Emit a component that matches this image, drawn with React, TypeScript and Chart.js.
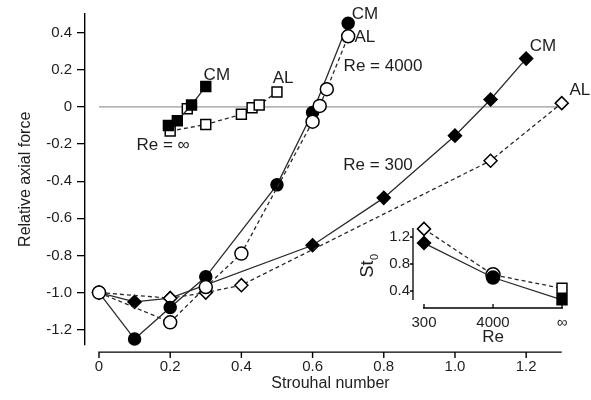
import React, { useEffect, useRef } from 'react';
import { Chart, registerables } from 'chart.js';

Chart.register(...registerables);

// ---------- main chart data ----------
const xTicks = [0, 0.2, 0.4, 0.6, 0.8, 1.0, 1.2];
const yTicks = [0.4, 0.2, 0, -0.2, -0.4, -0.6, -0.8, -1.0, -1.2];

// Re = 300
const st300CM = [0, 0.1, 0.2, 0.6, 0.8, 1.0, 1.1, 1.2];
const f300CM = [-1.0, -1.05, -1.03, -0.745, -0.49, -0.155, 0.04, 0.26];
const st300AL = [0, 0.2, 0.3, 0.4, 1.1, 1.3];
const f300AL = [-1.0, -1.03, -1.0, -0.96, -0.29, 0.02];

// Re = 4000
const st4000CM = [0, 0.1, 0.2, 0.3, 0.5, 0.6, 0.7];
const f4000CM = [-1.0, -1.25, -1.08, -0.915, -0.42, -0.03, 0.45];
const st4000AL = [0, 0.2, 0.3, 0.4, 0.6, 0.62, 0.64, 0.7];
const f4000AL = [-1.0, -1.16, -0.97, -0.79, -0.08, 0.005, 0.095, 0.38];

// Re = infinity
const stInfCM = [0.195, 0.22, 0.26, 0.3];
const fInfCM = [-0.1, -0.075, 0.01, 0.11];
const stInfAL = [0.2, 0.3, 0.4, 0.43, 0.45, 0.5];
const fInfAL = [-0.13, -0.095, -0.04, -0.005, 0.01, 0.08];
const stInfExtra = [0.248];
const fInfExtra = [-0.01];

// zero reference line
const zeroLineSt = [0, 1.3];
const zeroLineF = [0, 0];

// ---------- inset data ----------
const reCats = ['300', '4000', '\u221E'];
const st0CM = [1.11, 0.6, 0.27];
const st0AL = [1.32, 0.64, 0.44];
const insetYTicks = [1.2, 0.8, 0.4];

// ---------- text annotations (data coordinates) ----------
const annotations = [
  { text: 'CM', x: 0.331, y: 0.17 },
  { text: 'AL', x: 0.517, y: 0.154 },
  { text: 'Re = \u221E', x: 0.18, y: -0.207 },
  { text: 'CM', x: 0.747, y: 0.5 },
  { text: 'AL', x: 0.747, y: 0.372 },
  { text: 'Re = 4000', x: 0.798, y: 0.218 },
  { text: 'Re = 300', x: 0.784, y: -0.314 },
  { text: 'CM', x: 1.247, y: 0.324 },
  { text: 'AL', x: 1.351, y: 0.09 },
];

const FONT = '"Liberation Sans", Arial, Helvetica, sans-serif';
const INK = '#1e1e1e';
const LINE = '#2a2a2a';

function pts(xs: number[], ys: number[]) {
  return xs.map((x, i) => ({ x, y: ys[i] }));
}

function fmt(v: number) {
  return Math.abs(v) < 1e-9 ? '0' : v.toFixed(1);
}

const mainPlugin = {
  id: 'mainDecor',
  beforeDatasetsDraw(chart: any) {
    const { ctx, chartArea, scales } = chart;
    const xs = scales.x;
    const axisY = chartArea.bottom + 7.5;
    ctx.save();
    ctx.strokeStyle = '#000';
    ctx.lineWidth = 1.4;
    ctx.beginPath();
    ctx.moveTo(xs.getPixelForValue(0) - 0.7, axisY);
    ctx.lineTo(xs.getPixelForValue(1.3), axisY);
    for (const v of xTicks) {
      const p = xs.getPixelForValue(v);
      ctx.moveTo(p, axisY);
      ctx.lineTo(p, axisY + 6);
    }
    ctx.stroke();
    ctx.restore();
  },
  afterDatasetsDraw(chart: any) {
    const { ctx, scales } = chart;
    ctx.save();
    ctx.fillStyle = INK;
    ctx.font = `17px ${FONT}`;
    ctx.textAlign = 'center';
    ctx.textBaseline = 'middle';
    for (const a of annotations) {
      ctx.fillText(a.text, scales.x.getPixelForValue(a.x), scales.y.getPixelForValue(a.y));
    }
    ctx.restore();
  },
};

const insetPlugin = {
  id: 'insetDecor',
  beforeDatasetsDraw(chart: any) {
    const { ctx, chartArea, scales } = chart;
    const xs = scales.x;
    const ys = scales.y;
    const axisX = chartArea.left - 11;
    const axisY = chartArea.bottom + 8;
    ctx.save();
    ctx.strokeStyle = '#000';
    ctx.lineWidth = 1.3;
    ctx.beginPath();
    ctx.moveTo(axisX, chartArea.top);
    ctx.lineTo(axisX, chartArea.bottom);
    for (const v of insetYTicks) {
      const p = ys.getPixelForValue(v);
      ctx.moveTo(axisX, p);
      ctx.lineTo(axisX - 3, p);
    }
    ctx.moveTo(xs.getPixelForValue(0) - 1, axisY);
    ctx.lineTo(xs.getPixelForValue(reCats.length - 1) + 1, axisY);
    for (let i = 0; i < reCats.length; i++) {
      const p = xs.getPixelForValue(i);
      ctx.moveTo(p, axisY);
      ctx.lineTo(p, axisY - 4);
    }
    ctx.stroke();

    // St0 label
    ctx.fillStyle = INK;
    ctx.translate(axisX - 45, (chartArea.top + chartArea.bottom) / 2 + 2);
    ctx.rotate(-Math.PI / 2);
    ctx.font = `18px ${FONT}`;
    const w1 = ctx.measureText('St').width;
    ctx.font = `11px ${FONT}`;
    const w2 = ctx.measureText('0').width;
    const start = -(w1 + w2) / 2;
    ctx.textBaseline = 'middle';
    ctx.textAlign = 'left';
    ctx.font = `18px ${FONT}`;
    ctx.fillText('St', start, 0);
    ctx.font = `11px ${FONT}`;
    ctx.fillText('0', start + w1 + 0.5, 7);
    ctx.restore();
  },
};

function mainConfig(): any {
  const solid = { borderColor: LINE, borderWidth: 1.3, pointBorderColor: '#000', pointBorderWidth: 1.5 };
  const dashed = { ...solid, borderDash: [4, 3] };
  return {
    type: 'line',
    data: {
      datasets: [
        { ...dashed, data: pts(st4000AL, f4000AL), pointStyle: 'circle', pointRadius: 6.5, pointBackgroundColor: '#fff' },
        { ...solid, data: pts(st4000CM, f4000CM), pointStyle: 'circle', pointRadius: 6, pointBackgroundColor: '#000' },
        { ...dashed, data: pts(st300AL, f300AL), pointStyle: 'rectRot', pointRadius: 6.5, pointBackgroundColor: '#fff' },
        { ...solid, data: pts(st300CM, f300CM), pointStyle: 'rectRot', pointRadius: 6.5, pointBackgroundColor: '#000' },
        { ...solid, data: pts(stInfCM, fInfCM), pointStyle: 'rect', pointRadius: 7, pointBackgroundColor: '#000' },
        { ...dashed, data: pts(stInfAL, fInfAL), pointStyle: 'rect', pointRadius: 7, pointBackgroundColor: '#fff' },
        { ...solid, data: pts(stInfExtra, fInfExtra), showLine: false, pointStyle: 'rect', pointRadius: 7, pointBackgroundColor: '#fff' },
        { data: pts(zeroLineSt, zeroLineF), borderColor: '#9a9a9a', borderWidth: 1.2, pointRadius: 0 },
      ],
    },
    options: {
      animation: false,
      responsive: false,
      devicePixelRatio: 1,
      clip: false,
      layout: { padding: { top: 10, right: 15, left: 0, bottom: 0 } },
      elements: { line: { tension: 0, fill: false } },
      plugins: { legend: { display: false }, tooltip: { enabled: false } },
      scales: {
        x: {
          type: 'linear',
          min: -0.0393,
          max: 1.34,
          afterFit: (s: any) => { s.height = 55.4; },
          afterBuildTicks: (s: any) => { s.ticks = xTicks.map((v) => ({ value: v })); },
          grid: { display: false, drawTicks: false },
          border: { display: false },
          ticks: { padding: 13, color: INK, font: { family: FONT, size: 15 }, callback: (v: any) => fmt(Number(v)), autoSkip: false, maxRotation: 0 },
          title: { display: true, text: 'Strouhal number', color: INK, font: { family: FONT, size: 16 }, padding: { top: 0, bottom: 7 } },
        },
        y: {
          type: 'linear',
          min: -1.28,
          max: 0.5,
          afterFit: (s: any) => { s.width = 85; },
          afterBuildTicks: (s: any) => { s.ticks = yTicks.map((v) => ({ value: v })); },
          grid: { display: true, drawOnChartArea: false, drawTicks: true, tickLength: 8, color: '#000', lineWidth: 1.3 },
          border: { display: true, color: '#000', width: 1.4 },
          ticks: { padding: 5, color: INK, font: { family: FONT, size: 15 }, callback: (v: any) => fmt(Number(v)), autoSkip: false },
          title: { display: true, text: 'Relative axial force', color: INK, font: { family: FONT, size: 16 }, padding: { top: 16, bottom: 0 } },
        },
      },
    },
    plugins: [mainPlugin],
  };
}

function insetConfig(): any {
  const styles = ['rectRot', 'circle', 'rect'];
  return {
    type: 'line',
    data: {
      labels: reCats,
      datasets: [
        { data: st0CM, borderColor: LINE, borderWidth: 1.3, pointStyle: styles, pointRadius: [6.5, 6.5, 7], pointBackgroundColor: '#000', pointBorderColor: '#000', pointBorderWidth: 1.5 },
        { data: st0AL, borderColor: LINE, borderWidth: 1.3, borderDash: [4, 3], pointStyle: styles, pointRadius: [6.5, 7, 7], pointBackgroundColor: '#fff', pointBorderColor: '#000', pointBorderWidth: 1.5 },
      ],
    },
    options: {
      animation: false,
      responsive: false,
      devicePixelRatio: 1,
      clip: false,
      layout: { padding: { top: 15, right: 29, left: 0, bottom: 0 } },
      elements: { line: { tension: 0, fill: false } },
      plugins: { legend: { display: false }, tooltip: { enabled: false } },
      scales: {
        x: {
          type: 'category',
          offset: false,
          afterFit: (s: any) => { s.height = 50; },
          grid: { display: false, drawTicks: false },
          border: { display: false },
          ticks: { padding: 14, color: INK, font: { family: FONT, size: 15 }, autoSkip: false, maxRotation: 0 },
          title: { display: true, text: 'Re', color: INK, font: { family: FONT, size: 17 }, padding: { top: 0, bottom: 2 } },
        },
        y: {
          type: 'linear',
          min: 0.267,
          max: 1.333,
          afterFit: (s: any) => { s.width = 64; },
          afterBuildTicks: (s: any) => { s.ticks = insetYTicks.map((v) => ({ value: v })); },
          grid: { display: false, drawTicks: false },
          border: { display: false },
          ticks: { padding: 14, color: INK, font: { family: FONT, size: 15 }, callback: (v: any) => Number(v).toFixed(1), autoSkip: false },
        },
      },
    },
    plugins: [insetPlugin],
  };
}

export default function App() {
  const mainRef = useRef<HTMLCanvasElement>(null);
  const insetRef = useRef<HTMLCanvasElement>(null);
  useEffect(() => {
    const c1 = new Chart(mainRef.current as HTMLCanvasElement, mainConfig());
    const c2 = new Chart(insetRef.current as HTMLCanvasElement, insetConfig());
    return () => {
      c1.destroy();
      c2.destroy();
    };
  }, []);
  return (
    <div style={{ position: 'fixed', left: 0, top: 0, width: 591, height: 400, background: '#fff' }}>
      <canvas ref={mainRef} width={591} height={400} style={{ position: 'absolute', left: 0, top: 0, width: 591, height: 400 }} />
      <canvas ref={insetRef} width={231} height={145} style={{ position: 'absolute', left: 360, top: 205, width: 231, height: 145 }} />
    </div>
  );
}
